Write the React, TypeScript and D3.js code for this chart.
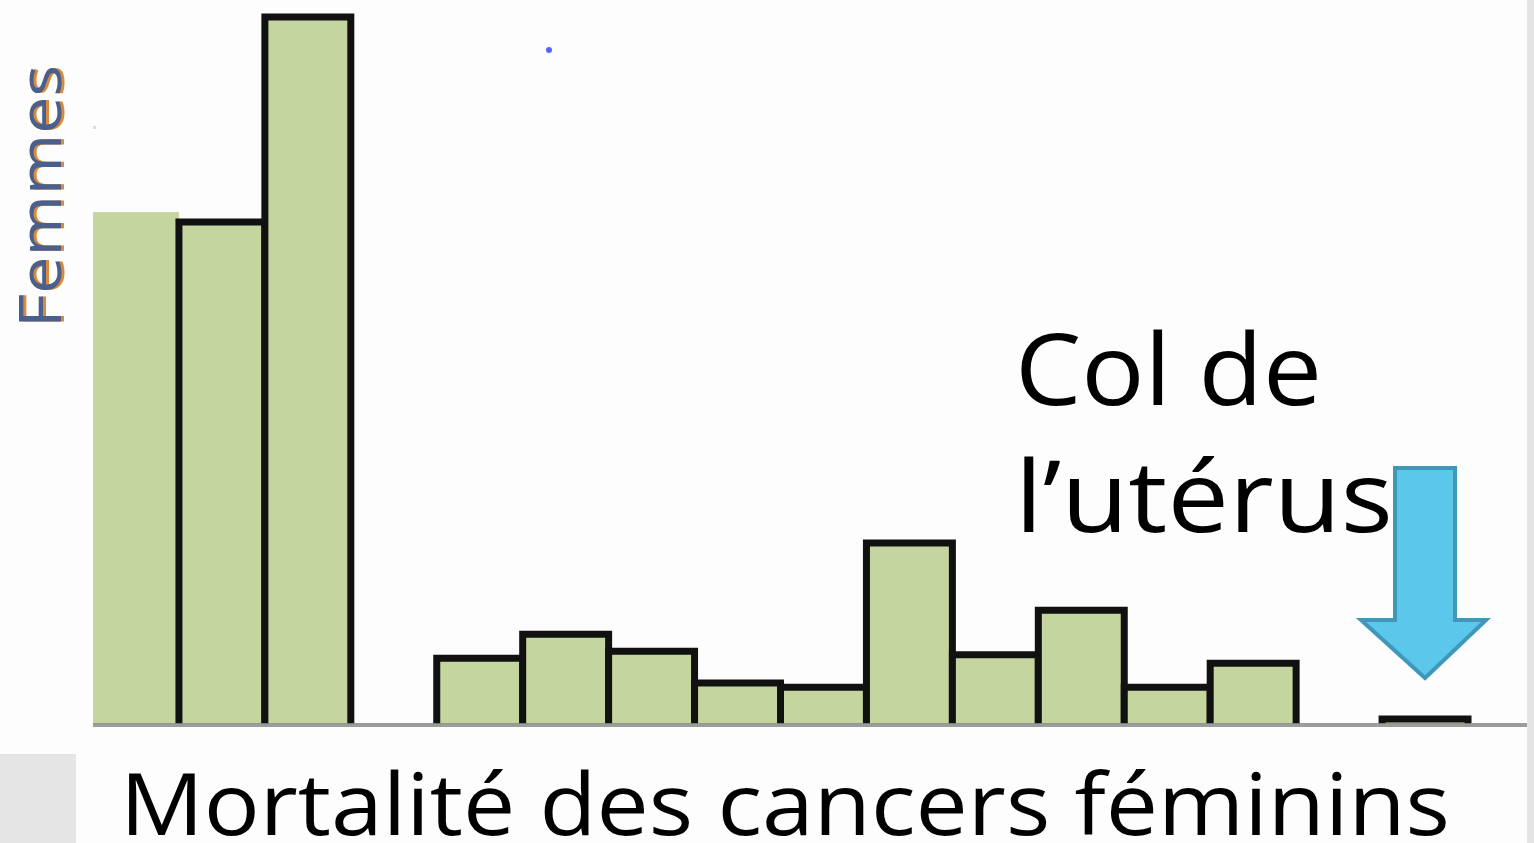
import React from "react";
import * as d3 from "d3";

// Data (relative mortality, arbitrary units)
const categories = ["C1","C2","C3","C4","C5","C6","C7","C8","C9","C10","C11","C12","C13","C14","C15","C16"];
const values = [72.4, 71.0, 100, 0, 9.3, 12.7, 10.3, 5.8, 5.2, 25.6, 9.8, 16.1, 5.2, 8.6, 0, 0.7];
const outlined = [false, true, true, true, true, true, true, true, true, true, true, true, true, true, true, true];
const title = "Mortalité des cancers féminins";
const yLabel = "Femmes";
const annotationLines = ["Col de", "l\u2019utérus"];
const highlightCategory = "C16";

const W = 1534;
const H = 843;
const baseline = 724;

export default function App() {
  const x = d3.scaleBand<string>().domain(categories).range([93, 1468]).padding(0);
  const y = d3.scaleLinear().domain([0, 100]).range([baseline, 17]);
  const font = "'Open Sans', 'Noto Sans', sans-serif";

  const hx = (x(highlightCategory) ?? 0) + x.bandwidth() / 2;
  const arrowPts: [number, number][] = [
    [hx - 30, 468], [hx + 30, 468], [hx + 30, 620], [hx + 61, 620],
    [hx, 678], [hx - 64, 620], [hx - 30, 620],
  ];

  return (
    <svg width={W} height={H} style={{ position: "absolute", left: 0, top: 0, display: "block" }}>
      <rect x={0} y={0} width={W} height={H} fill="#fdfdfd" />
      <rect x={1527} y={0} width={7} height={H} fill="#e4e4e4" />
      <rect x={0} y={754} width={76} height={89} fill="#e5e5e5" />
      <rect x={93} y={126} width={3} height={3} fill="#dcdcdc" />
      <circle cx={549} cy={50} r={3} fill="#3a45ff" opacity={0.85} />

      {/* bars */}
      {categories.map((c, i) => {
        const v = values[i];
        if (v <= 0) return null;
        const x0 = x(c)!;
        const x1 = x0 + x.bandwidth();
        const yt = y(v);
        return (
          <g key={c}>
            <rect x={x0} y={yt} width={x.bandwidth()} height={baseline - yt} fill="#c5d59f" />
            {outlined[i] && (
              <path
                d={`M${x0},${baseline} V${yt} H${x1} V${baseline}`}
                fill="none"
                stroke="#111"
                strokeWidth={7}
                strokeLinejoin="miter"
              />
            )}
          </g>
        );
      })}

      {/* baseline axis */}
      <line x1={93} x2={1527} y1={baseline + 1} y2={baseline + 1} stroke="#8c8c8c" strokeWidth={4} opacity={0.85} />

      {/* y label */}
      <g transform="translate(62,328) rotate(-90)">
        <text x={0} y={0} dy={2} fontFamily={font} fontSize={58} fill="#d98a3a" textLength={263} lengthAdjust="spacingAndGlyphs">
          {yLabel}
        </text>
        <text x={0} y={-1} fontFamily={font} fontSize={58} fill="#4a5f8c" textLength={263} lengthAdjust="spacingAndGlyphs">
          {yLabel}
        </text>
      </g>

      {/* annotation */}
      <text x={1015} y={405} fontFamily={font} fontSize={98} fill="#000" textLength={307} lengthAdjust="spacingAndGlyphs">
        {annotationLines[0]}
      </text>
      <text x={1015} y={532} fontFamily={font} fontSize={98} fill="#000" textLength={378} lengthAdjust="spacingAndGlyphs">
        {annotationLines[1]}
      </text>

      {/* arrow */}
      <polygon
        points={arrowPts.map((p) => p.join(",")).join(" ")}
        fill="#5bc8eb"
        stroke="#3f98ba"
        strokeWidth={4}
        strokeLinejoin="miter"
      />

      {/* title */}
      <text x={120} y={835} fontFamily={font} fontSize={86} fill="#000" textLength={1330} lengthAdjust="spacingAndGlyphs">
        {title}
      </text>
    </svg>
  );
}
